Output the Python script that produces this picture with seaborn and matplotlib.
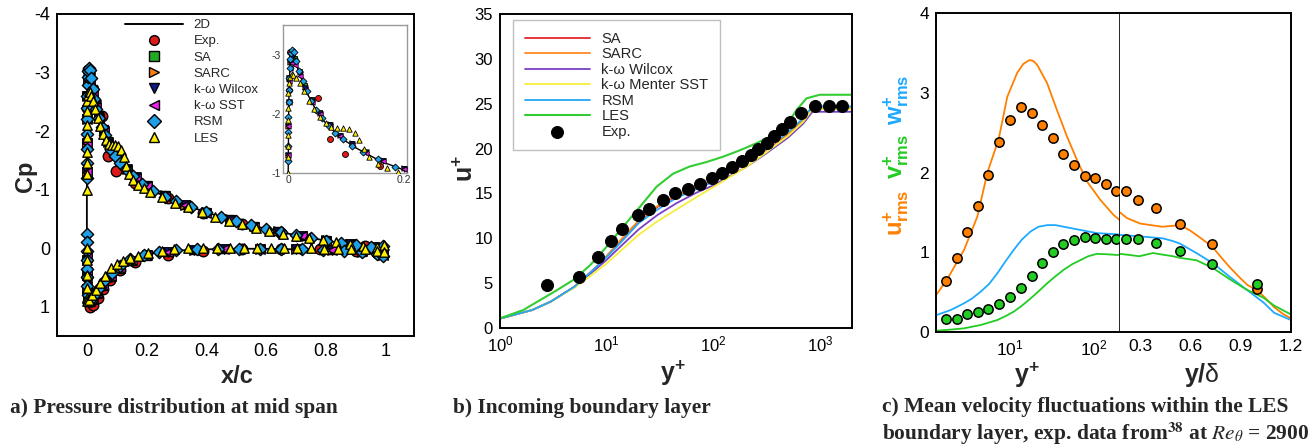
import numpy as np
import pandas as pd
import matplotlib
matplotlib.use("Agg")
import matplotlib.pyplot as plt
import seaborn as sns
from matplotlib.lines import Line2D
from matplotlib.ticker import MultipleLocator, LogLocator, NullFormatter, FixedLocator

sns.set_theme(style="white")
plt.rcParams['font.family'] = ['Liberation Sans', 'DejaVu Sans']
plt.rcParams['axes.unicode_minus'] = False
plt.rcParams['mathtext.fontset'] = 'custom'
plt.rcParams['mathtext.rm'] = 'Liberation Sans'
plt.rcParams['mathtext.bf'] = 'Liberation Sans:bold'
plt.rcParams['mathtext.it'] = 'Liberation Sans:italic'

# ---------------- Panel a data : Cp ----------------
x_2d = [1.0, 0.9, 0.8, 0.7, 0.6, 0.5, 0.4, 0.3, 0.22, 0.16, 0.12, 0.09, 0.065, 0.045, 0.03, 0.018, 0.01, 0.006, 0.003, 0.001,
        0.0, 0.0, 0.0, 0.002, 0.006, 0.015, 0.03, 0.05, 0.08, 0.12, 0.17, 0.23, 0.3, 0.4, 0.5, 0.6, 0.7, 0.8, 0.9, 1.0]
cp_2d = [-0.03, -0.05, -0.13, -0.22, -0.33, -0.46, -0.61, -0.8, -0.98, -1.2, -1.41, -1.6, -1.84, -2.12, -2.4, -2.72, -2.95, -3.05, -2.8, -2.2,
         -1.0, 0.0, 0.6, 0.88, 0.93, 0.9, 0.8, 0.66, 0.47, 0.29, 0.16, 0.08, 0.04, 0.02, 0.01, 0.01, 0.02, 0.03, 0.05, 0.1]

exp_x_up = [0.001, 0.003, 0.007, 0.052, 0.072, 0.098, 0.16, 0.27, 0.39, 0.52, 0.65, 0.8, 0.93]
exp_cp_up = [-2.4, -3.05, -3.0, -2.26, -1.58, -1.32, -1.12, -0.85, -0.6, -0.42, -0.26, -0.12, -0.03]
exp_x_lo = [0.0, 0.003, 0.009, 0.02, 0.037, 0.055, 0.076, 0.11, 0.16, 0.27, 0.39, 0.52, 0.65, 0.78, 0.9, 0.97]
exp_cp_lo = [0.5, 0.92, 1.0, 0.97, 0.85, 0.7, 0.54, 0.38, 0.23, 0.11, 0.04, 0.02, 0.01, 0.02, 0.05, 0.09]

rans_x_up = [0.0002, 0.0005, 0.001, 0.002, 0.004, 0.007, 0.012, 0.02, 0.03, 0.042, 0.056, 0.072, 0.09, 0.11, 0.135, 0.165,
             0.2, 0.26, 0.33, 0.4, 0.48, 0.56, 0.64, 0.72, 0.8, 0.88, 0.96]
sa_cp_up = [-1.3, -1.8, -2.2, -2.6, -2.9, -3.0, -2.95, -2.72, -2.48, -2.25, -2.03, -1.83, -1.65, -1.5, -1.36, -1.22,
            -1.08, -0.9, -0.74, -0.61, -0.49, -0.38, -0.29, -0.21, -0.14, -0.07, -0.02]
sarc_cp_up = [-1.3, -1.8, -2.2, -2.6, -2.88, -2.98, -2.93, -2.7, -2.46, -2.24, -2.02, -1.82, -1.64, -1.5, -1.36, -1.22,
              -1.08, -0.9, -0.74, -0.61, -0.49, -0.38, -0.29, -0.21, -0.14, -0.07, -0.02]
wil_cp_up = [-1.3, -1.8, -2.2, -2.6, -2.86, -2.96, -2.9, -2.68, -2.44, -2.22, -2.0, -1.81, -1.63, -1.49, -1.35, -1.21,
             -1.07, -0.89, -0.73, -0.6, -0.48, -0.37, -0.28, -0.2, -0.13, -0.07, -0.02]
sst_cp_up = [-1.3, -1.8, -2.2, -2.55, -2.78, -2.86, -2.82, -2.64, -2.42, -2.2, -1.99, -1.8, -1.62, -1.48, -1.34, -1.2,
             -1.07, -0.89, -0.73, -0.6, -0.48, -0.37, -0.28, -0.2, -0.13, -0.07, -0.02]
rans_x_lo = [0.0002, 0.0006, 0.0015, 0.004, 0.01, 0.02, 0.035, 0.055, 0.08, 0.11, 0.15, 0.2, 0.27, 0.36, 0.46, 0.58, 0.7, 0.82, 0.92, 0.99]
sa_cp_lo = [0.2, 0.45, 0.7, 0.87, 0.92, 0.88, 0.78, 0.64, 0.49, 0.35, 0.22, 0.13, 0.07, 0.03, 0.02, 0.01, 0.02, 0.03, 0.06, 0.12]
sarc_cp_lo = [0.2, 0.45, 0.7, 0.87, 0.92, 0.88, 0.78, 0.65, 0.5, 0.35, 0.22, 0.13, 0.07, 0.03, 0.02, 0.01, 0.02, 0.03, 0.06, 0.12]
wil_cp_lo = [0.2, 0.45, 0.7, 0.86, 0.91, 0.87, 0.77, 0.64, 0.49, 0.34, 0.22, 0.12, 0.06, 0.03, 0.02, 0.01, 0.02, 0.03, 0.06, 0.11]
sst_cp_lo = [0.15, 0.4, 0.65, 0.84, 0.9, 0.86, 0.76, 0.63, 0.48, 0.34, 0.21, 0.12, 0.06, 0.03, 0.02, 0.01, 0.02, 0.03, 0.05, 0.11]

rsm_x_up = [0.0001, 0.0002, 0.0003, 0.0005, 0.0008, 0.0012, 0.0018, 0.0025, 0.0035, 0.005, 0.007, 0.01, 0.014, 0.019, 0.025,
            0.032, 0.04, 0.049, 0.059, 0.07, 0.082, 0.095, 0.11, 0.13, 0.155, 0.185, 0.22, 0.26, 0.3, 0.35, 0.4, 0.45,
            0.5, 0.55, 0.6, 0.65, 0.7, 0.75, 0.8, 0.85, 0.9, 0.95, 0.99]
rsm_cp_up = [-1.2, -1.45, -1.7, -1.95, -2.2, -2.4, -2.6, -2.78, -2.92, -3.02, -3.08, -3.05, -2.9, -2.72, -2.55,
             -2.38, -2.22, -2.07, -1.93, -1.8, -1.68, -1.57, -1.46, -1.35, -1.23, -1.1, -0.98, -0.88, -0.8, -0.71, -0.61, -0.53,
             -0.46, -0.39, -0.33, -0.27, -0.22, -0.17, -0.13, -0.09, -0.05, -0.02, -0.04]
rsm_x_lo = [0.0001, 0.0002, 0.0003, 0.0005, 0.0008, 0.0012, 0.002, 0.004, 0.008, 0.014, 0.022, 0.032, 0.045, 0.062, 0.083,
            0.11, 0.145, 0.19, 0.24, 0.3, 0.37, 0.44, 0.51, 0.58, 0.65, 0.72, 0.79, 0.86, 0.92, 0.97, 0.99]
rsm_cp_lo = [-0.25, -0.1, 0.05, 0.2, 0.35, 0.5, 0.65, 0.8, 0.9, 0.9, 0.84, 0.77, 0.67, 0.55, 0.42,
             0.3, 0.19, 0.11, 0.06, 0.03, 0.02, 0.01, 0.01, 0.01, 0.01, 0.02, 0.03, 0.04, 0.06, 0.1, 0.14]

les_x_up = [0.0, 0.0, 0.0, 0.0, 0.0, 0.0, 0.0005, 0.0015, 0.003, 0.006, 0.009, 0.014, 0.02, 0.027, 0.036, 0.045, 0.055, 0.065,
            0.075, 0.085, 0.095, 0.105, 0.115, 0.123, 0.131, 0.14, 0.155, 0.172, 0.19, 0.21, 0.25, 0.295, 0.34, 0.385, 0.43,
            0.475, 0.52, 0.565, 0.61, 0.655, 0.7, 0.745, 0.79, 0.835, 0.88, 0.925, 0.97, 0.995]
les_cp_up = [-1.0, -1.27, -1.45, -1.65, -1.9, -2.1, -2.35, -2.52, -2.62, -2.68, -2.66, -2.6, -2.52, -2.38, -2.22, -2.08, -1.95, -1.85,
             -1.78, -1.76, -1.76, -1.75, -1.68, -1.55, -1.40, -1.27, -1.16, -1.08, -1.02, -0.96, -0.87, -0.78, -0.7, -0.61, -0.54,
             -0.47, -0.41, -0.35, -0.3, -0.25, -0.21, -0.17, -0.14, -0.1, -0.07, -0.04, -0.02, -0.05]
les_x_lo = [0.0, 0.0, 0.0, 0.0, 0.0, 0.002, 0.008, 0.018, 0.03, 0.045, 0.062, 0.082, 0.1, 0.12, 0.145, 0.17, 0.205, 0.25,
            0.29, 0.34, 0.39, 0.435, 0.48, 0.525, 0.57, 0.615, 0.66, 0.705, 0.75, 0.795, 0.84, 0.885, 0.93, 0.97, 0.995]
les_cp_lo = [0.0, 0.2, 0.45, 0.68, 0.85, 0.9, 0.88, 0.8, 0.72, 0.6, 0.47, 0.34, 0.27, 0.22, 0.17, 0.13, 0.09, 0.05,
             0.02, 0.0, 0.0, 0.0, -0.01, 0.0, 0.0, -0.01, 0.0, 0.0, 0.0, 0.01, 0.01, 0.02, 0.02, 0.04, 0.07]

# ---------------- Panel b data : u+ ----------------
b_yp = [1, 2, 3, 5, 8, 10, 13, 20, 30, 45, 70, 100, 200, 300, 500, 700, 850, 2000]
b_sa = [1.05, 2.0, 2.95, 4.6, 6.8, 8.0, 9.5, 11.9, 13.5, 14.7, 15.6, 16.3, 18.3, 19.7, 21.6, 23.2, 24.4, 24.4]
b_sarc = [1.05, 2.0, 2.95, 4.6, 6.8, 8.0, 9.6, 12.0, 13.6, 14.8, 15.7, 16.4, 18.4, 19.8, 21.7, 23.3, 24.5, 24.5]
b_wil = [1.05, 2.0, 2.95, 4.6, 6.6, 7.6, 8.9, 11.0, 12.6, 13.9, 15.1, 15.9, 17.9, 19.3, 21.2, 22.8, 24.1, 24.1]
b_sst = [1.05, 2.0, 2.95, 4.5, 6.3, 7.2, 8.4, 10.4, 11.9, 13.2, 14.6, 15.7, 17.9, 19.4, 21.4, 23.0, 24.4, 24.4]
b_rsm = [1.05, 2.0, 2.95, 4.6, 6.8, 7.9, 9.3, 11.7, 13.2, 14.5, 15.5, 16.3, 18.4, 19.8, 21.8, 23.4, 24.7, 24.7]
b_les_yp = [1, 1.65, 2.37, 3.4, 4.86, 7, 10, 14.3, 20.5, 29.4, 42, 60, 86.5, 124, 177, 255, 364, 486, 604, 749, 1000, 2000]
b_les = [1.08, 2.0, 3.1, 4.2, 5.35, 7.0, 9.06, 11.3, 13.5, 15.75, 17.2, 18.0, 18.5, 19.1, 19.8, 20.6, 21.5, 22.6, 24.3, 25.6, 26.0, 26.0]
b_exp_yp = [2.74, 5.54, 8.34, 11.0, 13.8, 19.5, 24.9, 33.5, 44.0, 57.8, 74.4, 96.4, 120.5, 149.4, 184, 223.6, 263.8,
            316, 372, 437, 522, 658, 896, 1220, 1615]
b_exp = [4.76, 5.69, 7.88, 9.73, 11.0, 12.6, 13.3, 14.3, 15.0, 15.46, 16.1, 16.7, 17.3, 17.98, 18.6, 19.25, 19.9,
         20.66, 21.4, 22.15, 22.97, 24.0, 24.75, 24.75, 24.75]

# ---------------- Panel c data : rms ----------------
c_exp_yp = [1.77, 2.36, 3.18, 4.24, 5.56, 7.48, 10.2, 13.5, 18.3, 24.4, 32.3, 43.2, 58.2, 76.9, 102.8, 137.4, 183]
c_exp_u = [0.64, 0.93, 1.25, 1.585, 1.97, 2.38, 2.66, 2.82, 2.74, 2.60, 2.43, 2.23, 2.09, 1.96, 1.93, 1.86, 1.77]
c_exp_v = [0.167, 0.167, 0.23, 0.247, 0.289, 0.347, 0.443, 0.552, 0.699, 0.862, 1.008, 1.104, 1.158, 1.192, 1.176, 1.171, 1.171]
c_exp_yd = [0.216, 0.287, 0.394, 0.54, 0.73, 1.0]
c_exp_u_out = [1.77, 1.65, 1.55, 1.36, 1.10, 0.54]
c_exp_v_out = [1.171, 1.163, 1.113, 1.02, 0.85, 0.60]

c_les_yp_u = [1.35, 1.85, 2.9, 4.17, 5.47, 7.44, 9.4, 12.3, 14.5, 17.2, 19.0, 21.2, 27.8, 36.4, 47.8, 62.5, 82, 117.6, 168.6, 202]
c_les_u = [0.46, 0.67, 1.03, 1.45, 2.0, 2.42, 2.95, 3.25, 3.36, 3.41, 3.40, 3.35, 3.12, 2.78, 2.45, 2.16, 1.89, 1.66, 1.47, 1.40]
c_les_yp_w = [1.35, 2.02, 2.9, 3.6, 4.56, 5.7, 7.17, 9.0, 11.2, 14.0, 17.7, 22.0, 27.8, 35.0, 43.6, 68.4, 107.6, 185, 202]
c_les_w = [0.21, 0.276, 0.36, 0.42, 0.506, 0.6, 0.736, 0.89, 1.03, 1.16, 1.26, 1.32, 1.34, 1.34, 1.32, 1.28, 1.24, 1.225, 1.22]
c_les_yp_v = [1.35, 2.02, 2.9, 4.56, 7.17, 9.0, 11.2, 14.0, 17.7, 22.0, 27.8, 35.0, 43.6, 55.0, 68.4, 85.0, 107.6, 140, 185, 202]
c_les_v = [0.016, 0.03, 0.046, 0.088, 0.15, 0.2, 0.255, 0.33, 0.42, 0.51, 0.61, 0.7, 0.78, 0.85, 0.90, 0.95, 0.98, 0.975, 0.966, 0.97]
c_les_yd_u = [0.18, 0.22, 0.3, 0.43, 0.54, 0.6, 0.66, 0.73, 0.79, 0.84, 0.9, 0.94, 1.0, 1.05, 1.1, 1.15, 1.2]
c_les_u_out = [1.5, 1.43, 1.36, 1.32, 1.34, 1.27, 1.18, 1.07, 0.92, 0.80, 0.67, 0.59, 0.52, 0.42, 0.31, 0.23, 0.17]
c_les_yd_vw = [0.18, 0.296, 0.376, 0.434, 0.496, 0.536, 0.636, 0.736, 0.836, 0.936, 1.036, 1.1, 1.2]
c_les_w_out = [1.217, 1.2, 1.185, 1.175, 1.14, 1.11, 0.99, 0.86, 0.69, 0.53, 0.37, 0.24, 0.15]
c_les_v_out = [0.98, 0.95, 0.99, 0.97, 0.95, 0.93, 0.90, 0.80, 0.66, 0.53, 0.43, 0.33, 0.22]

# ---------------- styles ----------------
COL_EXP, COL_SA, COL_SARC, COL_WIL, COL_SST, COL_RSM, COL_LES = \
    '#dd1a1a', '#22aa22', '#ff7f0e', '#0d1a8c', '#ee22ee', '#1e9fe6', '#ffee00'
B_SA, B_SARC, B_WIL, B_SST, B_RSM, B_LES = '#e3262b', '#ff8a1f', '#7b3fc4', '#f5ee3a', '#22a8f5', '#33cc33'
C_U, C_V, C_W = '#ff8000', '#22cc22', '#1eaaff'

W, H = 1316, 448
fig = plt.figure(figsize=(W / 100, H / 100), dpi=100)
fig.patch.set_facecolor('white')


def fr(l, t, r, b):
    return [l / W, 1 - b / H, (r - l) / W, (b - t) / H]


def style_ax(ax, size, lw=1.4, color='black'):
    ax.set_facecolor('white')
    for s in ax.spines.values():
        s.set_visible(True)
        s.set_color(color)
        s.set_linewidth(lw)
    ax.tick_params(which='both', direction='in', colors=color, labelcolor='black',
                   labelsize=size, top=False, right=False)
    ax.tick_params(which='major', length=6, width=1.1, pad=5)
    ax.tick_params(which='minor', length=3.5, width=1.0)
    ax.grid(False)


# ======== Panel a ========
axa = fig.add_axes(fr(57, 14, 414, 336))
style_ax(axa, 13)


def draw_cp(ax, ms_scale, lw):
    sns.lineplot(x=x_2d, y=cp_2d, ax=ax, color='black', lw=lw, sort=False, estimator=None, zorder=2)
    series = [
        (exp_x_up + exp_x_lo, exp_cp_up + exp_cp_lo, 'o', COL_EXP, 1.25),
        (rans_x_up + rans_x_lo, sa_cp_up + sa_cp_lo, 's', COL_SA, 0.8),
        (rans_x_up + rans_x_lo, sarc_cp_up + sarc_cp_lo, '>', COL_SARC, 1.0),
        (rans_x_up + rans_x_lo, wil_cp_up + wil_cp_lo, 'v', COL_WIL, 1.0),
        (rans_x_up + rans_x_lo, sst_cp_up + sst_cp_lo, '<', COL_SST, 1.0),
        (rsm_x_up + rsm_x_lo, rsm_cp_up + rsm_cp_lo, 'D', COL_RSM, 0.85),
        (les_x_up + les_x_lo, les_cp_up + les_cp_lo, '^', COL_LES, 1.0),
    ]
    for i, (xs, ys, m, c, k) in enumerate(series):
        sns.scatterplot(x=xs, y=ys, ax=ax, marker=m, color=c, edgecolor='black',
                        linewidth=ms_scale[1], s=ms_scale[0] * k, zorder=3 + i, legend=False)


draw_cp(axa, (46, 1.0), 1.3)
axa.set_xlim(-0.1, 1.095)
axa.set_ylim(1.5, -4)
axa.xaxis.set_major_locator(FixedLocator([0, 0.2, 0.4, 0.6, 0.8, 1.0]))
axa.set_xticklabels(['0', '0.2', '0.4', '0.6', '0.8', '1'])
axa.xaxis.set_minor_locator(MultipleLocator(0.1))
axa.yaxis.set_major_locator(FixedLocator([-4, -3, -2, -1, 0, 1]))
axa.set_yticklabels(['-4', '-3', '-2', '-1', '0', '1'])
axa.yaxis.set_minor_locator(MultipleLocator(0.5))
axa.set_xlabel('')
axa.set_ylabel('')
fig.text(237 / W, 1 - 376 / H, 'x/c', ha='center', va='center', fontsize=17, fontweight='bold')
fig.text(25 / W, 1 - 176 / H, 'Cp', ha='center', va='center', fontsize=17, fontweight='bold', rotation=90)

# inset
axi = fig.add_axes(fr(283, 25, 407, 173))
style_ax(axi, 7.5, lw=1.0, color='#999999')
draw_cp(axi, (15, 0.6), 1.0)
axi.set_xlim(-0.009, 0.206)
axi.set_ylim(-1, -3.5)
axi.xaxis.set_major_locator(FixedLocator([0, 0.2]))
axi.set_xticklabels(['0', '0.2'])
axi.xaxis.set_minor_locator(MultipleLocator(0.05))
axi.yaxis.set_major_locator(FixedLocator([-3, -2, -1]))
axi.set_yticklabels(['-3', '-2', '-1'])
axi.yaxis.set_minor_locator(MultipleLocator(0.5))
axi.tick_params(which='major', length=3, pad=1.5, labelcolor='#333333')
axi.tick_params(which='minor', length=2)
axi.set_xlabel('')
axi.set_ylabel('')

handles_a = [Line2D([], [], color='black', lw=1.4)]
for m, c in [('o', COL_EXP), ('s', COL_SA), ('>', COL_SARC), ('v', COL_WIL), ('<', COL_SST), ('D', COL_RSM), ('^', COL_LES)]:
    handles_a.append(Line2D([], [], ls='none', marker=m, markersize=7, markerfacecolor=c,
                            markeredgecolor='black', markeredgewidth=1.0))
labels_a = ['2D', 'Exp.', 'SA', 'SARC', 'k-ω Wilcox', 'k-ω SST', 'RSM', 'LES']
fig.legend(handles_a, labels_a, loc='upper left', bbox_to_anchor=(125 / W, 1 - 19 / H), frameon=False,
           fontsize=9.5, handlelength=4.4, handletextpad=0.8, labelspacing=0.3, borderpad=0, borderaxespad=0)

# ======== Panel b ========
axb = fig.add_axes(fr(500, 14, 852, 328))
style_ax(axb, 12)
axb.set_xscale('log')
for ys, col, lab in [(b_sa, B_SA, 'SA'), (b_sarc, B_SARC, 'SARC'), (b_wil, B_WIL, 'k-ω Wilcox'),
                     (b_sst, B_SST, 'k-ω Menter SST'), (b_rsm, B_RSM, 'RSM')]:
    sns.lineplot(x=b_yp, y=ys, ax=axb, color=col, lw=1.3, label=lab, sort=False, estimator=None)
sns.lineplot(x=b_les_yp, y=b_les, ax=axb, color=B_LES, lw=1.5, label='LES', sort=False, estimator=None)
sns.scatterplot(x=b_exp_yp, y=b_exp, ax=axb, color='black', s=75, edgecolor='black', label='Exp.', zorder=10)
axb.set_xlim(1, 2000)
axb.set_ylim(0, 35)
axb.xaxis.set_major_locator(LogLocator(base=10, numticks=10))
axb.xaxis.set_minor_locator(LogLocator(base=10, subs=np.arange(2, 10), numticks=10))
axb.xaxis.set_minor_formatter(NullFormatter())
axb.yaxis.set_major_locator(MultipleLocator(5))
axb.yaxis.set_minor_locator(MultipleLocator(1))
axb.set_xlabel('')
axb.set_ylabel('')
leg = axb.legend(loc='upper left', bbox_to_anchor=(513 / W, 1 - 20 / H), bbox_transform=fig.transFigure,
                 frameon=True, fancybox=False, edgecolor='#b0b0b0', fontsize=10.6, handlelength=4.4,
                 handletextpad=0.8, labelspacing=0.1, borderpad=0.8, borderaxespad=0)
leg.get_frame().set_linewidth(1.0)
fig.text(673 / W, 1 - 373 / H, r'$\mathbf{y^{+}}$', ha='center', va='center', fontsize=18)
fig.text(466 / W, 1 - 168 / H, r'$\mathbf{u^{+}}$', ha='center', va='center', fontsize=18, rotation=90)

# ======== Panel c ========
axc1 = fig.add_axes(fr(936, 13, 1120, 332))
axc2 = fig.add_axes(fr(1120, 13, 1291, 332))
style_ax(axc1, 12.5)
style_ax(axc2, 12.5)
axc1.set_xscale('log')
sns.lineplot(x=c_les_yp_u, y=c_les_u, ax=axc1, color=C_U, lw=1.3, sort=False, estimator=None)
sns.lineplot(x=c_les_yp_w, y=c_les_w, ax=axc1, color=C_W, lw=1.3, sort=False, estimator=None)
sns.lineplot(x=c_les_yp_v, y=c_les_v, ax=axc1, color=C_V, lw=1.3, sort=False, estimator=None)
sns.scatterplot(x=c_exp_yp, y=c_exp_u, ax=axc1, color=C_U, edgecolor='black', linewidth=1.1, s=45, zorder=5, legend=False)
sns.scatterplot(x=c_exp_yp, y=c_exp_v, ax=axc1, color=C_V, edgecolor='black', linewidth=1.1, s=45, zorder=5, legend=False)
sns.lineplot(x=c_les_yd_u, y=c_les_u_out, ax=axc2, color=C_U, lw=1.3, sort=False, estimator=None)
sns.lineplot(x=c_les_yd_vw, y=c_les_w_out, ax=axc2, color=C_W, lw=1.3, sort=False, estimator=None)
sns.lineplot(x=c_les_yd_vw, y=c_les_v_out, ax=axc2, color=C_V, lw=1.3, sort=False, estimator=None)
sns.scatterplot(x=c_exp_yd, y=c_exp_u_out, ax=axc2, color=C_U, edgecolor='black', linewidth=1.1, s=45, zorder=5, legend=False)
sns.scatterplot(x=c_exp_yd, y=c_exp_v_out, ax=axc2, color=C_V, edgecolor='black', linewidth=1.1, s=45, zorder=5, legend=False)
axc1.set_xlim(1.35, 202)
axc2.set_xlim(0.18, 1.2)
for ax in (axc1, axc2):
    ax.set_ylim(0, 4)
    ax.set_xlabel('')
    ax.set_ylabel('')
axc1.xaxis.set_major_locator(FixedLocator([10, 100]))
axc1.xaxis.set_minor_locator(LogLocator(base=10, subs=np.arange(2, 10), numticks=10))
axc1.xaxis.set_minor_formatter(NullFormatter())
axc1.yaxis.set_major_locator(MultipleLocator(1))
axc1.yaxis.set_minor_locator(MultipleLocator(0.2))
axc1.spines['right'].set_linewidth(1.2)
axc2.spines['left'].set_visible(False)
axc2.xaxis.set_major_locator(FixedLocator([0.3, 0.6, 0.9, 1.2]))
axc2.set_xticklabels(['0.3', '0.6', '0.9', '1.2'])
axc2.xaxis.set_minor_locator(FixedLocator([0.45, 0.75, 1.05]))
axc2.tick_params(axis='y', which='both', left=False, labelleft=False)
fig.text(1027 / W, 1 - 375 / H, r'$\mathbf{y^{+}}$', ha='center', va='center', fontsize=18)
fig.text(1202 / W, 1 - 375 / H, r'$\mathbf{y/}$δ', ha='center', va='center', fontsize=18)
fig.text(896 / W, 1 - 100 / H, r'$\mathbf{w^{+}_{rms}}$', ha='center', va='center', fontsize=17, rotation=90, color=C_W)
fig.text(896 / W, 1 - 156 / H, r'$\mathbf{v^{+}_{rms}}$', ha='center', va='center', fontsize=17, rotation=90, color=C_V)
fig.text(896 / W, 1 - 213 / H, r'$\mathbf{u^{+}_{rms}}$', ha='center', va='center', fontsize=17, rotation=90, color=C_U)

# ======== captions ========
cap = dict(fontsize=15.4, fontweight='bold', family=['Liberation Serif', 'DejaVu Serif'], va='center', ha='left',
           math_fontfamily='stix')
fig.text(10 / W, 1 - 408 / H, 'a) Pressure distribution at mid span', **cap)
fig.text(453 / W, 1 - 408 / H, 'b) Incoming boundary layer', **cap)
fig.text(882 / W, 1 - 407 / H, 'c) Mean velocity fluctuations within the LES', **cap)
fig.text(882 / W, 1 - 434 / H, r'boundary layer, exp. data from$^{\mathbf{38}}$ at $\mathit{Re}_{\theta}$ = 2900', **cap)

fig.savefig('out.png', dpi=100, facecolor='white')
